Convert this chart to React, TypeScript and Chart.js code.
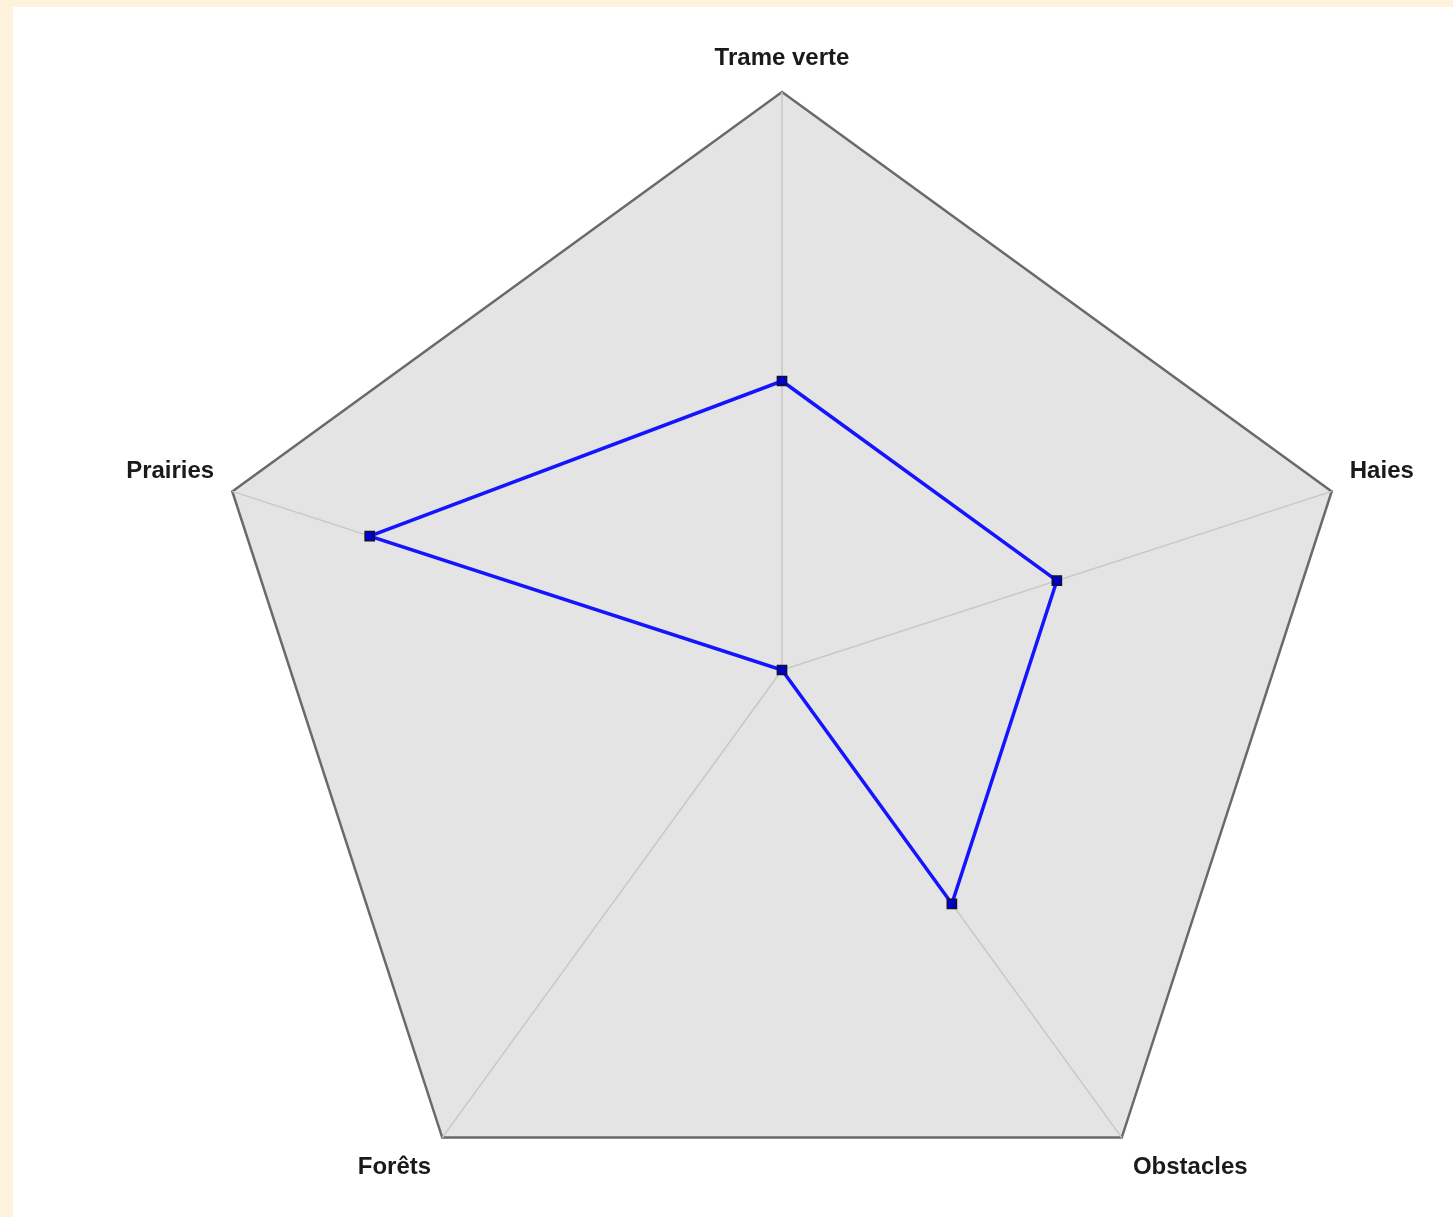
import React, { useEffect, useRef } from "react";
import { Chart, registerables } from "chart.js";

Chart.register(...registerables);

const categories = ["Trame verte", "Haies", "Obstacles", "Forêts", "Prairies"];
const seriesValues = [0.5, 0.5, 0.5, 0, 0.75];
const scaleMin = 0;
const scaleMax = 1;

const LABEL_PAD = 19;
const LABEL_FONT = 'bold 24px "Liberation Sans", Arial, sans-serif';
const LABEL_LINE_HEIGHT = 28.8;

const axisLabelPlugin = {
  id: "axisLabelPlugin",
  afterDraw(chart: any) {
    const scale = chart.scales.r;
    const ctx = chart.ctx;
    ctx.save();
    ctx.font = LABEL_FONT;
    ctx.fillStyle = "#1a1a1a";
    ctx.textBaseline = "middle";
    const lh = LABEL_LINE_HEIGHT;
    categories.forEach((lab, i) => {
      const pos = scale.getPointPosition(i, scale.drawingArea + LABEL_PAD);
      const deg = Math.round(((((pos.angle + Math.PI / 2) * 180) / Math.PI) % 360 + 360) % 360);
      let y = pos.y;
      if (deg === 90 || deg === 270) y -= lh / 2;
      else if (deg > 270 || deg < 90) y -= lh;
      const align = deg === 0 || deg === 180 ? "center" : deg < 180 ? "left" : "right";
      ctx.textAlign = align;
      ctx.fillText(lab, pos.x, y + lh / 2);
    });
    ctx.restore();
  },
};

export default function App() {
  const canvasRef = useRef<HTMLCanvasElement | null>(null);

  useEffect(() => {
    const canvas = canvasRef.current;
    if (!canvas) return;
    const chart = new Chart(canvas, {
      type: "radar",
      data: {
        labels: categories,
        datasets: [
          {
            data: seriesValues,
            borderColor: "#1414ff",
            borderWidth: 3.5,
            fill: false,
            pointStyle: "rect",
            pointRadius: 6.5,
            pointBackgroundColor: "#0000c8",
            pointBorderColor: "#111133",
            pointBorderWidth: 1.5,
            tension: 0,
          },
        ],
      },
      options: {
        responsive: false,
        animation: false,
        layout: { padding: { left: 191, right: 93, top: 85, bottom: 59 } },
        plugins: {
          legend: { display: false },
          tooltip: { enabled: false },
        },
        scales: {
          r: {
            min: scaleMin,
            max: scaleMax,
            backgroundColor: "#e4e4e4",
            ticks: { display: false, stepSize: 1 },
            grid: { color: "#6a6a6a", lineWidth: 2.5 },
            angleLines: { color: "#c8c8c8", lineWidth: 1.5 },
            pointLabels: { display: false },
          },
        },
      },
      plugins: [axisLabelPlugin],
    });
    return () => chart.destroy();
  }, []);

  return (
    <div
      style={{
        position: "absolute",
        left: 0,
        top: 0,
        width: 1453,
        height: 1217,
        background: "#fff2dc",
        overflow: "hidden",
      }}
    >
      <div
        style={{
          position: "absolute",
          left: 13,
          top: 7,
          width: 1440,
          height: 1210,
          background: "#ffffff",
          overflow: "hidden",
        }}
      >
        <canvas
          ref={canvasRef}
          width={1440}
          height={1300}
          style={{ width: 1440, height: 1300, display: "block" }}
        />
      </div>
    </div>
  );
}
